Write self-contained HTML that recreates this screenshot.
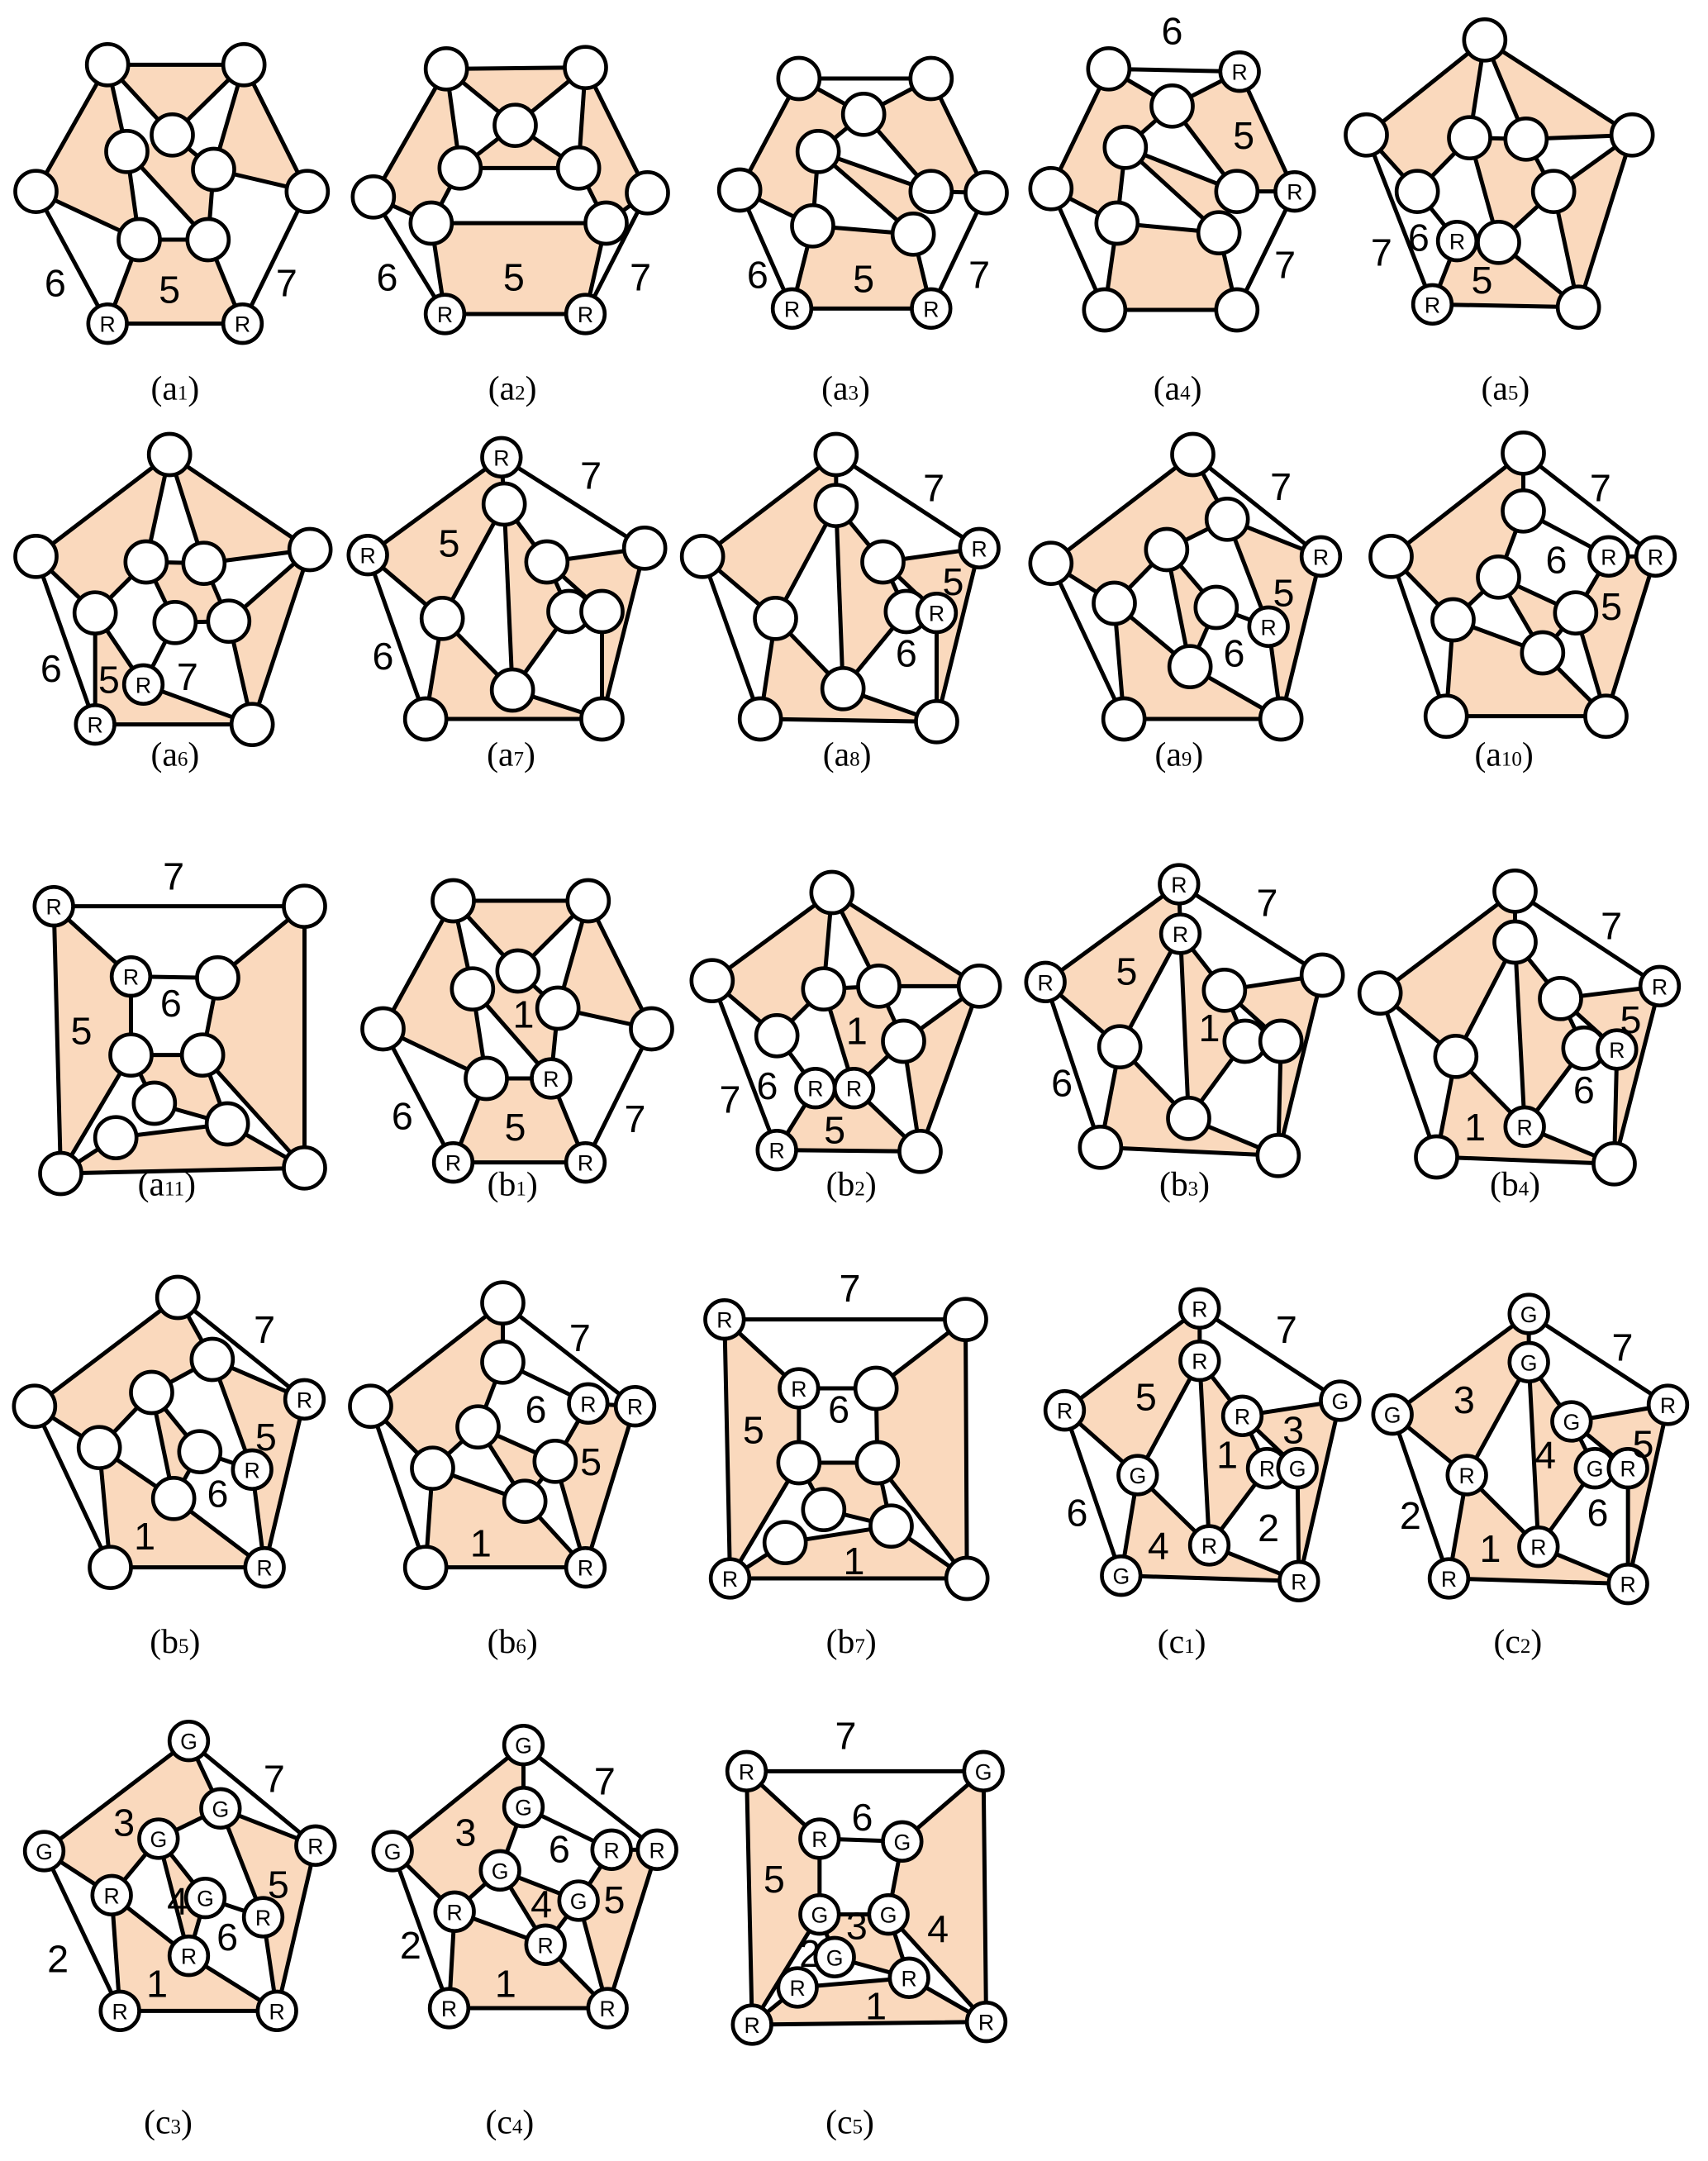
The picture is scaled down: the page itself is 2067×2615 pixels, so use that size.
<!DOCTYPE html>
<html><head><meta charset="utf-8"><style>
html,body{margin:0;padding:0;background:#fff}
svg{display:block}
.f{fill:#FAD9BD;stroke:none}
.e{fill:none;stroke:#000;stroke-width:3;stroke-linecap:round}
circle{fill:#fff;stroke:#000;stroke-width:2.8}
.l{font-family:"Liberation Sans",sans-serif;font-size:16px;text-anchor:middle}
.t{font-family:"Liberation Sans",sans-serif;font-size:28px;text-anchor:middle}
.c{font-family:"Liberation Serif",serif;font-size:25px;text-anchor:middle}
</style></head><body>
<svg width="2067" height="2615" viewBox="0 0 1240 1569" xmlns="http://www.w3.org/2000/svg">
<!-- a1 -->
<polygon class="f" points="78,47 177,47 125,98"/><polygon class="f" points="78,47 92,110 101,174 26,139"/><polygon class="f" points="177,47 223,139 155,123"/><polygon class="f" points="125,98 155,123 151,174 92,110"/><polygon class="f" points="101,174 151,174 176,235 78,235"/>
<path class="e" d="M78,47L177,47 M78,47L26,139 M177,47L223,139 M26,139L78,235 M223,139L176,235 M78,235L176,235 M78,47L92,110 M78,47L125,98 M177,47L125,98 M177,47L155,123 M26,139L101,174 M223,139L155,123 M92,110L101,174 M92,110L151,174 M125,98L155,123 M155,123L151,174 M101,174L151,174 M101,174L78,235 M151,174L176,235"/>
<circle cx="78" cy="47" r="15"/><circle cx="177" cy="47" r="15"/><circle cx="26" cy="139" r="15"/><circle cx="223" cy="139" r="15"/><circle cx="92" cy="110" r="15"/><circle cx="125" cy="98" r="15"/><circle cx="155" cy="123" r="15"/><circle cx="101" cy="174" r="15"/><circle cx="151" cy="174" r="15"/><circle cx="78" cy="235" r="14"/><circle cx="176" cy="235" r="14"/>
<text class="l" x="78" y="241">R</text><text class="l" x="176" y="241">R</text>
<text class="t" x="40" y="215">6</text><text class="t" x="123" y="220">5</text><text class="t" x="208" y="215">7</text>
<!-- a2 -->
<polygon class="f" points="324,50 425,49 374,91"/><polygon class="f" points="374,91 420,122 334,122"/><polygon class="f" points="324,50 334,122 313,162 271,143"/><polygon class="f" points="425,49 470,140 440,162 420,122"/><polygon class="f" points="313,162 440,162 425,228 323,228"/>
<path class="e" d="M324,50L425,49 M324,50L374,91 M425,49L374,91 M374,91L334,122 M374,91L420,122 M334,122L420,122 M324,50L334,122 M425,49L420,122 M324,50L271,143 M425,49L470,140 M271,143L313,162 M470,140L440,162 M334,122L313,162 M420,122L440,162 M313,162L440,162 M271,143L323,228 M470,140L425,228 M313,162L323,228 M440,162L425,228 M323,228L425,228"/>
<circle cx="324" cy="50" r="15"/><circle cx="425" cy="49" r="15"/><circle cx="374" cy="91" r="15"/><circle cx="334" cy="122" r="15"/><circle cx="420" cy="122" r="15"/><circle cx="271" cy="143" r="15"/><circle cx="470" cy="140" r="15"/><circle cx="313" cy="162" r="15"/><circle cx="440" cy="162" r="15"/><circle cx="323" cy="228" r="14"/><circle cx="425" cy="228" r="14"/>
<text class="l" x="323" y="234">R</text><text class="l" x="425" y="234">R</text>
<text class="t" x="281" y="211">6</text><text class="t" x="373" y="211">5</text><text class="t" x="465" y="211">7</text>
<!-- a3 -->
<polygon class="f" points="580,57 627,83 594,110 590,164 537,138"/><polygon class="f" points="676,57 716,140 676,139 627,83"/><polygon class="f" points="594,110 676,139 663,170"/><polygon class="f" points="590,164 663,170 676,224 575,224"/>
<path class="e" d="M580,57L676,57 M580,57L627,83 M676,57L627,83 M580,57L537,138 M676,57L716,140 M627,83L594,110 M627,83L676,139 M594,110L676,139 M594,110L663,170 M594,110L590,164 M537,138L590,164 M676,139L716,140 M537,138L575,224 M716,140L676,224 M590,164L663,170 M590,164L575,224 M663,170L676,224 M575,224L676,224"/>
<circle cx="580" cy="57" r="15"/><circle cx="676" cy="57" r="15"/><circle cx="627" cy="83" r="15"/><circle cx="594" cy="110" r="15"/><circle cx="537" cy="138" r="15"/><circle cx="716" cy="140" r="15"/><circle cx="676" cy="139" r="15"/><circle cx="590" cy="164" r="15"/><circle cx="663" cy="170" r="15"/><circle cx="575" cy="224" r="14"/><circle cx="676" cy="224" r="14"/>
<text class="l" x="575" y="230">R</text><text class="l" x="676" y="230">R</text>
<text class="t" x="550" y="209">6</text><text class="t" x="627" y="212">5</text><text class="t" x="711" y="209">7</text>
<!-- a4 -->
<polygon class="f" points="805,50 851,77 817,107 811,162 763,137"/><polygon class="f" points="900,52 940,139 898,139 851,77"/><polygon class="f" points="817,107 898,139 885,169"/><polygon class="f" points="811,162 885,169 898,225 802,225"/>
<path class="e" d="M805,50L900,52 M805,50L851,77 M900,52L851,77 M805,50L763,137 M900,52L940,139 M851,77L817,107 M851,77L898,139 M817,107L898,139 M817,107L885,169 M817,107L811,162 M763,137L811,162 M898,139L940,139 M763,137L802,225 M940,139L898,225 M811,162L885,169 M811,162L802,225 M885,169L898,225 M802,225L898,225"/>
<circle cx="805" cy="50" r="15"/><circle cx="900" cy="52" r="14"/><circle cx="851" cy="77" r="15"/><circle cx="817" cy="107" r="15"/><circle cx="763" cy="137" r="15"/><circle cx="898" cy="139" r="15"/><circle cx="940" cy="139" r="14"/><circle cx="811" cy="162" r="15"/><circle cx="885" cy="169" r="15"/><circle cx="802" cy="225" r="15"/><circle cx="898" cy="225" r="15"/>
<text class="l" x="900" y="58">R</text><text class="l" x="940" y="145">R</text>
<text class="t" x="851" y="32">6</text><text class="t" x="903" y="108">5</text><text class="t" x="933" y="202">7</text>
<!-- a5 -->
<polygon class="f" points="1078,29 992,98 1029,139 1067,100"/><polygon class="f" points="1078,29 1185,98 1108,101"/><polygon class="f" points="1067,100 1108,101 1128,139 1088,176"/><polygon class="f" points="1185,98 1128,139 1146,223"/><polygon class="f" points="1058,175 1088,176 1146,223 1040,221"/>
<path class="e" d="M1078,29L992,98 M1078,29L1185,98 M1078,29L1067,100 M1078,29L1108,101 M1067,100L1108,101 M1108,101L1185,98 M992,98L1029,139 M992,98L1040,221 M1067,100L1029,139 M1067,100L1088,176 M1108,101L1128,139 M1128,139L1185,98 M1029,139L1058,175 M1058,175L1088,176 M1128,139L1088,176 M1088,176L1146,223 M1128,139L1146,223 M1185,98L1146,223 M1058,175L1040,221 M1040,221L1146,223"/>
<circle cx="1078" cy="29" r="15"/><circle cx="992" cy="98" r="15"/><circle cx="1185" cy="98" r="15"/><circle cx="1067" cy="100" r="15"/><circle cx="1108" cy="101" r="15"/><circle cx="1029" cy="139" r="15"/><circle cx="1128" cy="139" r="15"/><circle cx="1058" cy="175" r="14"/><circle cx="1088" cy="176" r="15"/><circle cx="1040" cy="221" r="14"/><circle cx="1146" cy="223" r="15"/>
<text class="l" x="1058" y="181">R</text><text class="l" x="1040" y="227">R</text>
<text class="t" x="1003" y="193">7</text><text class="t" x="1030" y="182">6</text><text class="t" x="1076" y="213">5</text>
<!-- a6 -->
<polygon class="f" points="123,330 26,404 69,445 106,408"/><polygon class="f" points="123,330 225,399 148,409"/><polygon class="f" points="106,408 148,409 166,451 127,452"/><polygon class="f" points="225,399 166,451 183,526"/><polygon class="f" points="69,445 104,497 183,526 69,526"/>
<path class="e" d="M123,330L26,404 M123,330L225,399 M123,330L106,408 M123,330L148,409 M106,408L148,409 M148,409L225,399 M26,404L69,445 M26,404L69,526 M106,408L69,445 M106,408L127,452 M148,409L166,451 M127,452L166,451 M166,451L225,399 M69,445L104,497 M69,445L69,526 M127,452L104,497 M166,451L183,526 M225,399L183,526 M104,497L183,526 M69,526L183,526"/>
<circle cx="123" cy="330" r="15"/><circle cx="26" cy="404" r="15"/><circle cx="225" cy="399" r="15"/><circle cx="106" cy="408" r="15"/><circle cx="148" cy="409" r="15"/><circle cx="69" cy="445" r="15"/><circle cx="127" cy="452" r="15"/><circle cx="166" cy="451" r="15"/><circle cx="104" cy="497" r="14"/><circle cx="69" cy="526" r="14"/><circle cx="183" cy="526" r="15"/>
<text class="l" x="104" y="503">R</text><text class="l" x="69" y="532">R</text>
<text class="t" x="37" y="495">6</text><text class="t" x="79" y="503">5</text><text class="t" x="136" y="501">7</text>
<!-- a7 -->
<polygon class="f" points="364,332 267,403 321,449 366,366"/><polygon class="f" points="366,366 397,408 413,444 372,501"/><polygon class="f" points="397,408 468,398 437,522 437,444"/><polygon class="f" points="309,522 321,449 372,501 437,522"/>
<path class="e" d="M364,332L267,403 M364,332L468,398 M364,332L366,366 M366,366L321,449 M366,366L372,501 M366,366L397,408 M397,408L468,398 M397,408L413,444 M397,408L437,444 M413,444L372,501 M437,444L437,522 M468,398L437,522 M267,403L321,449 M267,403L309,522 M321,449L372,501 M321,449L309,522 M372,501L437,522 M309,522L437,522"/>
<circle cx="364" cy="332" r="14"/><circle cx="366" cy="366" r="15"/><circle cx="267" cy="403" r="14"/><circle cx="468" cy="398" r="15"/><circle cx="397" cy="408" r="15"/><circle cx="321" cy="449" r="15"/><circle cx="413" cy="444" r="15"/><circle cx="437" cy="444" r="15"/><circle cx="372" cy="501" r="15"/><circle cx="309" cy="522" r="15"/><circle cx="437" cy="522" r="15"/>
<text class="l" x="364" y="338">R</text><text class="l" x="267" y="409">R</text>
<text class="t" x="429" y="355">7</text><text class="t" x="326" y="404">5</text><text class="t" x="278" y="486">6</text>
<!-- a8 -->
<polygon class="f" points="607,330 510,404 563,449 607,367"/><polygon class="f" points="607,367 641,408 658,444 612,500"/><polygon class="f" points="641,408 711,398 680,524 680,445"/><polygon class="f" points="552,522 563,449 612,500 680,524"/>
<path class="e" d="M607,330L510,404 M607,330L711,398 M607,330L607,367 M607,367L563,449 M607,367L612,500 M607,367L641,408 M641,408L711,398 M641,408L658,444 M641,408L680,445 M658,444L612,500 M680,445L680,524 M711,398L680,524 M510,404L563,449 M510,404L552,522 M563,449L612,500 M563,449L552,522 M612,500L680,524 M552,522L680,524"/>
<circle cx="607" cy="330" r="15"/><circle cx="607" cy="367" r="15"/><circle cx="510" cy="404" r="15"/><circle cx="711" cy="398" r="14"/><circle cx="641" cy="408" r="15"/><circle cx="563" cy="449" r="15"/><circle cx="658" cy="444" r="15"/><circle cx="680" cy="445" r="14"/><circle cx="612" cy="500" r="15"/><circle cx="552" cy="522" r="15"/><circle cx="680" cy="524" r="15"/>
<text class="l" x="711" y="404">R</text><text class="l" x="680" y="451">R</text>
<text class="t" x="678" y="364">7</text><text class="t" x="692" y="432">5</text><text class="t" x="658" y="484">6</text>
<!-- a9 -->
<polygon class="f" points="866,330 763,409 809,438 847,399 891,377"/><polygon class="f" points="891,377 959,404 930,522 921,455"/><polygon class="f" points="847,399 883,441 864,484"/><polygon class="f" points="816,522 809,438 864,484 930,522"/>
<path class="e" d="M866,330L763,409 M866,330L959,404 M866,330L891,377 M891,377L847,399 M891,377L959,404 M891,377L921,455 M847,399L809,438 M847,399L864,484 M847,399L883,441 M883,441L921,455 M883,441L864,484 M921,455L930,522 M959,404L930,522 M763,409L809,438 M763,409L816,522 M809,438L816,522 M809,438L864,484 M864,484L930,522 M816,522L930,522"/>
<circle cx="866" cy="330" r="15"/><circle cx="891" cy="377" r="15"/><circle cx="959" cy="404" r="14"/><circle cx="763" cy="409" r="15"/><circle cx="847" cy="399" r="15"/><circle cx="809" cy="438" r="15"/><circle cx="883" cy="441" r="15"/><circle cx="921" cy="455" r="14"/><circle cx="864" cy="484" r="15"/><circle cx="816" cy="522" r="15"/><circle cx="930" cy="522" r="15"/>
<text class="l" x="959" y="410">R</text><text class="l" x="921" y="461">R</text>
<text class="t" x="930" y="363">7</text><text class="t" x="932" y="440">5</text><text class="t" x="896" y="484">6</text>
<!-- a10 -->
<polygon class="f" points="1106,329 1010,404 1055,450 1088,419 1106,371"/><polygon class="f" points="1088,419 1144,445 1120,474"/><polygon class="f" points="1168,404 1202,404 1166,520 1144,445"/><polygon class="f" points="1050,520 1055,450 1120,474 1166,520"/>
<path class="e" d="M1106,329L1010,404 M1106,329L1202,404 M1106,329L1106,371 M1106,371L1088,419 M1106,371L1168,404 M1168,404L1202,404 M1168,404L1144,445 M1202,404L1166,520 M1088,419L1055,450 M1088,419L1144,445 M1088,419L1120,474 M1144,445L1120,474 M1144,445L1166,520 M1010,404L1055,450 M1010,404L1050,520 M1055,450L1120,474 M1055,450L1050,520 M1120,474L1166,520 M1050,520L1166,520"/>
<circle cx="1106" cy="329" r="15"/><circle cx="1106" cy="371" r="15"/><circle cx="1168" cy="404" r="14"/><circle cx="1202" cy="404" r="14"/><circle cx="1010" cy="404" r="15"/><circle cx="1088" cy="419" r="15"/><circle cx="1144" cy="445" r="15"/><circle cx="1055" cy="450" r="15"/><circle cx="1120" cy="474" r="15"/><circle cx="1050" cy="520" r="15"/><circle cx="1166" cy="520" r="15"/>
<text class="l" x="1168" y="410">R</text><text class="l" x="1202" y="410">R</text>
<text class="t" x="1162" y="364">7</text><text class="t" x="1130" y="416">6</text><text class="t" x="1170" y="450">5</text>
<!-- a11 -->
<polygon class="f" points="39,658 95,709 95,766 44,852"/><polygon class="f" points="221,658 221,848 147,766 158,710"/><polygon class="f" points="95,766 147,766 165,816 112,801"/><polygon class="f" points="44,852 84,826 165,816 221,848"/>
<path class="e" d="M39,658L221,658 M39,658L44,852 M221,658L221,848 M44,852L221,848 M39,658L95,709 M221,658L158,710 M95,709L158,710 M95,709L95,766 M158,710L147,766 M95,766L147,766 M95,766L44,852 M147,766L221,848 M147,766L165,816 M95,766L112,801 M112,801L165,816 M84,826L165,816 M84,826L44,852 M165,816L221,848"/>
<circle cx="39" cy="658" r="14"/><circle cx="221" cy="658" r="15"/><circle cx="44" cy="852" r="15"/><circle cx="221" cy="848" r="15"/><circle cx="95" cy="709" r="14"/><circle cx="158" cy="710" r="15"/><circle cx="95" cy="766" r="15"/><circle cx="147" cy="766" r="15"/><circle cx="112" cy="801" r="15"/><circle cx="165" cy="816" r="15"/><circle cx="84" cy="826" r="15"/>
<text class="l" x="39" y="664">R</text><text class="l" x="95" y="715">R</text>
<text class="t" x="126" y="646">7</text><text class="t" x="124" y="738">6</text><text class="t" x="59" y="758">5</text>
<!-- b1 -->
<polygon class="f" points="329,654 427,654 376,705"/><polygon class="f" points="329,654 343,718 353,783 278,747"/><polygon class="f" points="427,654 473,747 405,732"/><polygon class="f" points="376,705 405,732 400,783 343,718"/><polygon class="f" points="353,783 400,783 425,844 329,844"/>
<path class="e" d="M329,654L427,654 M329,654L376,705 M427,654L376,705 M329,654L343,718 M427,654L405,732 M329,654L278,747 M427,654L473,747 M278,747L353,783 M405,732L473,747 M343,718L353,783 M343,718L400,783 M376,705L405,732 M405,732L400,783 M353,783L400,783 M353,783L329,844 M400,783L425,844 M278,747L329,844 M473,747L425,844 M329,844L425,844"/>
<circle cx="329" cy="654" r="15"/><circle cx="427" cy="654" r="15"/><circle cx="278" cy="747" r="15"/><circle cx="473" cy="747" r="15"/><circle cx="376" cy="705" r="15"/><circle cx="343" cy="718" r="15"/><circle cx="405" cy="732" r="15"/><circle cx="353" cy="783" r="15"/><circle cx="400" cy="783" r="14"/><circle cx="329" cy="844" r="14"/><circle cx="425" cy="844" r="14"/>
<text class="l" x="400" y="789">R</text><text class="l" x="329" y="850">R</text><text class="l" x="425" y="850">R</text>
<text class="t" x="292" y="820">6</text><text class="t" x="374" y="828">5</text><text class="t" x="461" y="822">7</text><text class="t" x="380" y="746">1</text>
<!-- b2 -->
<polygon class="f" points="604,648 517,712 564,752 598,718"/><polygon class="f" points="604,648 711,716 638,716"/><polygon class="f" points="598,718 638,716 656,756 620,790"/><polygon class="f" points="711,716 656,756 668,836"/><polygon class="f" points="592,790 620,790 668,836 564,835"/>
<path class="e" d="M604,648L517,712 M604,648L711,716 M604,648L598,718 M604,648L638,716 M598,718L638,716 M638,716L711,716 M517,712L564,752 M517,712L564,835 M598,718L564,752 M598,718L620,790 M638,716L656,756 M656,756L711,716 M564,752L592,790 M592,790L620,790 M656,756L620,790 M620,790L668,836 M656,756L668,836 M711,716L668,836 M592,790L564,835 M564,835L668,836"/>
<circle cx="604" cy="648" r="15"/><circle cx="517" cy="712" r="15"/><circle cx="711" cy="716" r="15"/><circle cx="598" cy="718" r="15"/><circle cx="638" cy="716" r="15"/><circle cx="564" cy="752" r="15"/><circle cx="656" cy="756" r="15"/><circle cx="592" cy="790" r="14"/><circle cx="620" cy="790" r="14"/><circle cx="564" cy="835" r="14"/><circle cx="668" cy="836" r="15"/>
<text class="l" x="592" y="796">R</text><text class="l" x="620" y="796">R</text><text class="l" x="564" y="841">R</text>
<text class="t" x="530" y="808">7</text><text class="t" x="557" y="798">6</text><text class="t" x="606" y="830">5</text><text class="t" x="622" y="758">1</text>
<!-- b3 -->
<polygon class="f" points="856,642 759,713 813,760 857,678"/><polygon class="f" points="857,678 889,719 904,756 863,812"/><polygon class="f" points="889,719 960,708 928,839 930,756"/><polygon class="f" points="799,833 813,760 863,812 928,839"/>
<path class="e" d="M856,642L759,713 M856,642L960,708 M856,642L857,678 M857,678L813,760 M857,678L863,812 M857,678L889,719 M889,719L960,708 M889,719L904,756 M889,719L930,756 M904,756L863,812 M930,756L928,839 M960,708L928,839 M759,713L813,760 M759,713L799,833 M813,760L863,812 M813,760L799,833 M863,812L928,839 M799,833L928,839"/>
<circle cx="856" cy="642" r="14"/><circle cx="857" cy="678" r="14"/><circle cx="759" cy="713" r="14"/><circle cx="960" cy="708" r="15"/><circle cx="889" cy="719" r="15"/><circle cx="813" cy="760" r="15"/><circle cx="904" cy="756" r="15"/><circle cx="930" cy="756" r="15"/><circle cx="863" cy="812" r="15"/><circle cx="799" cy="833" r="15"/><circle cx="928" cy="839" r="15"/>
<text class="l" x="856" y="648">R</text><text class="l" x="857" y="684">R</text><text class="l" x="759" y="719">R</text>
<text class="t" x="920" y="665">7</text><text class="t" x="818" y="715">5</text><text class="t" x="771" y="796">6</text><text class="t" x="878" y="756">1</text>
<!-- b4 -->
<polygon class="f" points="1100,647 1002,721 1057,767 1100,684"/><polygon class="f" points="1100,684 1133,725 1150,761 1107,818"/><polygon class="f" points="1133,725 1205,716 1172,845 1174,762"/><polygon class="f" points="1043,840 1057,767 1107,818 1172,845"/>
<path class="e" d="M1100,647L1002,721 M1100,647L1205,716 M1100,647L1100,684 M1100,684L1057,767 M1100,684L1107,818 M1100,684L1133,725 M1133,725L1205,716 M1133,725L1150,761 M1133,725L1174,762 M1150,761L1107,818 M1174,762L1172,845 M1205,716L1172,845 M1002,721L1057,767 M1002,721L1043,840 M1057,767L1107,818 M1057,767L1043,840 M1107,818L1172,845 M1043,840L1172,845"/>
<circle cx="1100" cy="647" r="15"/><circle cx="1100" cy="684" r="15"/><circle cx="1205" cy="716" r="14"/><circle cx="1002" cy="721" r="15"/><circle cx="1133" cy="725" r="15"/><circle cx="1057" cy="767" r="15"/><circle cx="1150" cy="761" r="15"/><circle cx="1174" cy="762" r="14"/><circle cx="1107" cy="818" r="14"/><circle cx="1043" cy="840" r="15"/><circle cx="1172" cy="845" r="15"/>
<text class="l" x="1205" y="722">R</text><text class="l" x="1174" y="768">R</text><text class="l" x="1107" y="824">R</text>
<text class="t" x="1170" y="682">7</text><text class="t" x="1184" y="750">5</text><text class="t" x="1150" y="801">6</text><text class="t" x="1071" y="828">1</text>
<!-- b5 -->
<polygon class="f" points="129,942 25,1021 72,1051 110,1011 154,987"/><polygon class="f" points="154,987 221,1016 192,1138 183,1067"/><polygon class="f" points="110,1011 145,1054 126,1088"/><polygon class="f" points="80,1138 72,1051 126,1088 192,1138"/>
<path class="e" d="M129,942L25,1021 M129,942L221,1016 M129,942L154,987 M154,987L110,1011 M154,987L221,1016 M154,987L183,1067 M110,1011L72,1051 M110,1011L126,1088 M110,1011L145,1054 M145,1054L183,1067 M145,1054L126,1088 M183,1067L192,1138 M221,1016L192,1138 M25,1021L72,1051 M25,1021L80,1138 M72,1051L80,1138 M72,1051L126,1088 M126,1088L192,1138 M80,1138L192,1138"/>
<circle cx="129" cy="942" r="15"/><circle cx="154" cy="987" r="15"/><circle cx="221" cy="1016" r="14"/><circle cx="25" cy="1021" r="15"/><circle cx="110" cy="1011" r="15"/><circle cx="72" cy="1051" r="15"/><circle cx="145" cy="1054" r="15"/><circle cx="183" cy="1067" r="14"/><circle cx="126" cy="1088" r="15"/><circle cx="80" cy="1138" r="15"/><circle cx="192" cy="1138" r="14"/>
<text class="l" x="221" y="1022">R</text><text class="l" x="183" y="1073">R</text><text class="l" x="192" y="1144">R</text>
<text class="t" x="192" y="975">7</text><text class="t" x="193" y="1053">5</text><text class="t" x="158" y="1094">6</text><text class="t" x="105" y="1125">1</text>
<!-- b6 -->
<polygon class="f" points="365,946 269,1021 314,1066 347,1036 365,989"/><polygon class="f" points="347,1036 403,1061 381,1090"/><polygon class="f" points="427,1019 461,1021 425,1138 403,1061"/><polygon class="f" points="309,1138 314,1066 381,1090 425,1138"/>
<path class="e" d="M365,946L269,1021 M365,946L461,1021 M365,946L365,989 M365,989L347,1036 M365,989L427,1019 M427,1019L461,1021 M427,1019L403,1061 M461,1021L425,1138 M347,1036L314,1066 M347,1036L403,1061 M347,1036L381,1090 M403,1061L381,1090 M403,1061L425,1138 M269,1021L314,1066 M269,1021L309,1138 M314,1066L381,1090 M314,1066L309,1138 M381,1090L425,1138 M309,1138L425,1138"/>
<circle cx="365" cy="946" r="15"/><circle cx="365" cy="989" r="15"/><circle cx="427" cy="1019" r="14"/><circle cx="461" cy="1021" r="14"/><circle cx="269" cy="1021" r="15"/><circle cx="347" cy="1036" r="15"/><circle cx="403" cy="1061" r="15"/><circle cx="314" cy="1066" r="15"/><circle cx="381" cy="1090" r="15"/><circle cx="309" cy="1138" r="15"/><circle cx="425" cy="1138" r="14"/>
<text class="l" x="427" y="1025">R</text><text class="l" x="461" y="1027">R</text><text class="l" x="425" y="1144">R</text>
<text class="t" x="421" y="981">7</text><text class="t" x="389" y="1033">6</text><text class="t" x="429" y="1071">5</text><text class="t" x="349" y="1130">1</text>
<!-- b7 -->
<polygon class="f" points="526,958 580,1008 580,1062 530,1146"/><polygon class="f" points="701,958 702,1146 637,1062 636,1008"/><polygon class="f" points="580,1062 637,1062 647,1108 598,1096"/><polygon class="f" points="530,1146 570,1120 647,1108 702,1146"/>
<path class="e" d="M526,958L701,958 M526,958L530,1146 M701,958L702,1146 M530,1146L702,1146 M526,958L580,1008 M701,958L636,1008 M580,1008L636,1008 M580,1008L580,1062 M636,1008L637,1062 M580,1062L637,1062 M580,1062L530,1146 M637,1062L702,1146 M637,1062L647,1108 M580,1062L598,1096 M598,1096L647,1108 M570,1120L647,1108 M570,1120L530,1146 M647,1108L702,1146"/>
<circle cx="526" cy="958" r="14"/><circle cx="701" cy="958" r="15"/><circle cx="530" cy="1146" r="14"/><circle cx="702" cy="1146" r="15"/><circle cx="580" cy="1008" r="14"/><circle cx="636" cy="1008" r="15"/><circle cx="580" cy="1062" r="15"/><circle cx="637" cy="1062" r="15"/><circle cx="598" cy="1096" r="15"/><circle cx="647" cy="1108" r="15"/><circle cx="570" cy="1120" r="15"/>
<text class="l" x="526" y="964">R</text><text class="l" x="530" y="1152">R</text><text class="l" x="580" y="1014">R</text>
<text class="t" x="617" y="945">7</text><text class="t" x="609" y="1033">6</text><text class="t" x="547" y="1048">5</text><text class="t" x="620" y="1143">1</text>
<!-- c1 -->
<polygon class="f" points="871,950 773,1024 826,1071 871,988"/><polygon class="f" points="871,988 902,1028 920,1066 878,1122"/><polygon class="f" points="902,1028 973,1017 943,1148 942,1066"/><polygon class="f" points="814,1144 826,1071 878,1122 943,1148"/>
<path class="e" d="M871,950L773,1024 M871,950L973,1017 M871,950L871,988 M871,988L826,1071 M871,988L878,1122 M871,988L902,1028 M902,1028L973,1017 M902,1028L920,1066 M902,1028L942,1066 M920,1066L878,1122 M942,1066L943,1148 M973,1017L943,1148 M773,1024L826,1071 M773,1024L814,1144 M826,1071L878,1122 M826,1071L814,1144 M878,1122L943,1148 M814,1144L943,1148"/>
<circle cx="871" cy="950" r="14"/><circle cx="871" cy="988" r="14"/><circle cx="773" cy="1024" r="14"/><circle cx="973" cy="1017" r="14"/><circle cx="902" cy="1028" r="14"/><circle cx="826" cy="1071" r="14"/><circle cx="920" cy="1066" r="14"/><circle cx="942" cy="1066" r="14"/><circle cx="878" cy="1122" r="14"/><circle cx="814" cy="1144" r="14"/><circle cx="943" cy="1148" r="14"/>
<text class="l" x="871" y="956">R</text><text class="l" x="871" y="994">R</text><text class="l" x="773" y="1030">R</text><text class="l" x="973" y="1023">G</text><text class="l" x="902" y="1034">R</text><text class="l" x="826" y="1077">G</text><text class="l" x="920" y="1072">R</text><text class="l" x="942" y="1072">G</text><text class="l" x="878" y="1128">R</text><text class="l" x="814" y="1150">G</text><text class="l" x="943" y="1154">R</text>
<text class="t" x="934" y="975">7</text><text class="t" x="832" y="1024">5</text><text class="t" x="939" y="1048">3</text><text class="t" x="891" y="1066">1</text><text class="t" x="782" y="1108">6</text><text class="t" x="921" y="1119">2</text><text class="t" x="841" y="1132">4</text>
<!-- c2 -->
<polygon class="f" points="1110,954 1011,1027 1065,1071 1110,989"/><polygon class="f" points="1110,989 1141,1032 1158,1066 1117,1123"/><polygon class="f" points="1141,1032 1211,1020 1182,1150 1182,1066"/><polygon class="f" points="1052,1146 1065,1071 1117,1123 1182,1150"/>
<path class="e" d="M1110,954L1011,1027 M1110,954L1211,1020 M1110,954L1110,989 M1110,989L1065,1071 M1110,989L1117,1123 M1110,989L1141,1032 M1141,1032L1211,1020 M1141,1032L1158,1066 M1141,1032L1182,1066 M1158,1066L1117,1123 M1182,1066L1182,1150 M1211,1020L1182,1150 M1011,1027L1065,1071 M1011,1027L1052,1146 M1065,1071L1117,1123 M1065,1071L1052,1146 M1117,1123L1182,1150 M1052,1146L1182,1150"/>
<circle cx="1110" cy="954" r="14"/><circle cx="1110" cy="989" r="14"/><circle cx="1211" cy="1020" r="14"/><circle cx="1011" cy="1027" r="14"/><circle cx="1141" cy="1032" r="14"/><circle cx="1065" cy="1071" r="14"/><circle cx="1158" cy="1066" r="14"/><circle cx="1182" cy="1066" r="14"/><circle cx="1117" cy="1123" r="14"/><circle cx="1052" cy="1146" r="14"/><circle cx="1182" cy="1150" r="14"/>
<text class="l" x="1110" y="960">G</text><text class="l" x="1110" y="995">G</text><text class="l" x="1211" y="1026">R</text><text class="l" x="1011" y="1033">G</text><text class="l" x="1141" y="1038">G</text><text class="l" x="1065" y="1077">R</text><text class="l" x="1158" y="1072">G</text><text class="l" x="1182" y="1072">R</text><text class="l" x="1117" y="1129">R</text><text class="l" x="1052" y="1152">R</text><text class="l" x="1182" y="1156">R</text>
<text class="t" x="1178" y="988">7</text><text class="t" x="1063" y="1026">3</text><text class="t" x="1193" y="1058">5</text><text class="t" x="1122" y="1066">4</text><text class="t" x="1160" y="1108">6</text><text class="t" x="1024" y="1110">2</text><text class="t" x="1082" y="1134">1</text>
<!-- c3 -->
<polygon class="f" points="137,1264 32,1344 81,1376 115,1335 160,1313"/><polygon class="f" points="160,1313 229,1340 201,1460 191,1392"/><polygon class="f" points="115,1335 149,1378 137,1420"/><polygon class="f" points="87,1460 81,1376 137,1420 201,1460"/>
<path class="e" d="M137,1264L32,1344 M137,1264L229,1340 M137,1264L160,1313 M160,1313L115,1335 M160,1313L229,1340 M160,1313L191,1392 M115,1335L81,1376 M115,1335L137,1420 M115,1335L149,1378 M149,1378L191,1392 M149,1378L137,1420 M191,1392L201,1460 M229,1340L201,1460 M32,1344L81,1376 M32,1344L87,1460 M81,1376L87,1460 M81,1376L137,1420 M137,1420L201,1460 M87,1460L201,1460"/>
<circle cx="137" cy="1264" r="14"/><circle cx="160" cy="1313" r="14"/><circle cx="229" cy="1340" r="14"/><circle cx="32" cy="1344" r="14"/><circle cx="115" cy="1335" r="14"/><circle cx="81" cy="1376" r="14"/><circle cx="149" cy="1378" r="14"/><circle cx="191" cy="1392" r="14"/><circle cx="137" cy="1420" r="14"/><circle cx="87" cy="1460" r="14"/><circle cx="201" cy="1460" r="14"/>
<text class="l" x="137" y="1270">G</text><text class="l" x="160" y="1319">G</text><text class="l" x="229" y="1346">R</text><text class="l" x="32" y="1350">G</text><text class="l" x="115" y="1341">G</text><text class="l" x="81" y="1382">R</text><text class="l" x="149" y="1384">G</text><text class="l" x="191" y="1398">R</text><text class="l" x="137" y="1426">R</text><text class="l" x="87" y="1466">R</text><text class="l" x="201" y="1466">R</text>
<text class="t" x="199" y="1301">7</text><text class="t" x="90" y="1333">3</text><text class="t" x="202" y="1378">5</text><text class="t" x="129" y="1390">4</text><text class="t" x="165" y="1416">6</text><text class="t" x="42" y="1432">2</text><text class="t" x="114" y="1450">1</text>
<!-- c4 -->
<polygon class="f" points="380,1267 285,1344 330,1388 363,1358 380,1312"/><polygon class="f" points="363,1358 420,1380 396,1412"/><polygon class="f" points="444,1343 477,1343 441,1458 420,1380"/><polygon class="f" points="326,1458 330,1388 396,1412 441,1458"/>
<path class="e" d="M380,1267L285,1344 M380,1267L477,1343 M380,1267L380,1312 M380,1312L363,1358 M380,1312L444,1343 M444,1343L477,1343 M444,1343L420,1380 M477,1343L441,1458 M363,1358L330,1388 M363,1358L420,1380 M363,1358L396,1412 M420,1380L396,1412 M420,1380L441,1458 M285,1344L330,1388 M285,1344L326,1458 M330,1388L396,1412 M330,1388L326,1458 M396,1412L441,1458 M326,1458L441,1458"/>
<circle cx="380" cy="1267" r="14"/><circle cx="380" cy="1312" r="14"/><circle cx="444" cy="1343" r="14"/><circle cx="477" cy="1343" r="14"/><circle cx="285" cy="1344" r="14"/><circle cx="363" cy="1358" r="14"/><circle cx="420" cy="1380" r="14"/><circle cx="330" cy="1388" r="14"/><circle cx="396" cy="1412" r="14"/><circle cx="326" cy="1458" r="14"/><circle cx="441" cy="1458" r="14"/>
<text class="l" x="380" y="1273">G</text><text class="l" x="380" y="1318">G</text><text class="l" x="444" y="1349">R</text><text class="l" x="477" y="1349">R</text><text class="l" x="285" y="1350">G</text><text class="l" x="363" y="1364">G</text><text class="l" x="420" y="1386">G</text><text class="l" x="330" y="1394">R</text><text class="l" x="396" y="1418">R</text><text class="l" x="326" y="1464">R</text><text class="l" x="441" y="1464">R</text>
<text class="t" x="439" y="1303">7</text><text class="t" x="338" y="1340">3</text><text class="t" x="406" y="1352">6</text><text class="t" x="393" y="1392">4</text><text class="t" x="446" y="1389">5</text><text class="t" x="298" y="1422">2</text><text class="t" x="367" y="1450">1</text>
<!-- c5 -->
<polygon class="f" points="542,1286 595,1335 595,1390 546,1470"/><polygon class="f" points="714,1286 716,1468 645,1390 655,1337"/><polygon class="f" points="595,1390 645,1390 660,1436 606,1421"/><polygon class="f" points="546,1470 579,1443 660,1436 716,1468"/>
<path class="e" d="M542,1286L714,1286 M542,1286L546,1470 M714,1286L716,1468 M546,1470L716,1468 M542,1286L595,1335 M714,1286L655,1337 M595,1335L655,1337 M595,1335L595,1390 M655,1337L645,1390 M595,1390L645,1390 M595,1390L546,1470 M645,1390L716,1468 M645,1390L660,1436 M595,1390L606,1421 M606,1421L660,1436 M579,1443L660,1436 M579,1443L546,1470 M660,1436L716,1468"/>
<circle cx="542" cy="1286" r="14"/><circle cx="714" cy="1286" r="14"/><circle cx="546" cy="1470" r="14"/><circle cx="716" cy="1468" r="14"/><circle cx="595" cy="1335" r="14"/><circle cx="655" cy="1337" r="14"/><circle cx="595" cy="1390" r="14"/><circle cx="645" cy="1390" r="14"/><circle cx="606" cy="1421" r="14"/><circle cx="660" cy="1436" r="14"/><circle cx="579" cy="1443" r="14"/>
<text class="l" x="542" y="1292">R</text><text class="l" x="714" y="1292">G</text><text class="l" x="546" y="1476">R</text><text class="l" x="716" y="1474">R</text><text class="l" x="595" y="1341">R</text><text class="l" x="655" y="1343">G</text><text class="l" x="595" y="1396">G</text><text class="l" x="645" y="1396">G</text><text class="l" x="606" y="1427">G</text><text class="l" x="660" y="1442">R</text><text class="l" x="579" y="1449">R</text>
<text class="t" x="614" y="1270">7</text><text class="t" x="626" y="1329">6</text><text class="t" x="562" y="1374">5</text><text class="t" x="681" y="1410">4</text><text class="t" x="622" y="1408">3</text><text class="t" x="588" y="1428">2</text><text class="t" x="636" y="1466">1</text>
<!-- captions -->
<text class="c" x="127" y="290">(a<tspan font-size="15">1</tspan>)</text>
<text class="c" x="372" y="290">(a<tspan font-size="15">2</tspan>)</text>
<text class="c" x="614" y="290">(a<tspan font-size="15">3</tspan>)</text>
<text class="c" x="855" y="290">(a<tspan font-size="15">4</tspan>)</text>
<text class="c" x="1093" y="290">(a<tspan font-size="15">5</tspan>)</text>
<text class="c" x="127" y="556">(a<tspan font-size="15">6</tspan>)</text>
<text class="c" x="371" y="556">(a<tspan font-size="15">7</tspan>)</text>
<text class="c" x="615" y="556">(a<tspan font-size="15">8</tspan>)</text>
<text class="c" x="856" y="556">(a<tspan font-size="15">9</tspan>)</text>
<text class="c" x="1092" y="556">(a<tspan font-size="15">10</tspan>)</text>
<text class="c" x="121" y="868">(a<tspan font-size="15">11</tspan>)</text>
<text class="c" x="372" y="868">(b<tspan font-size="15">1</tspan>)</text>
<text class="c" x="618" y="868">(b<tspan font-size="15">2</tspan>)</text>
<text class="c" x="860" y="868">(b<tspan font-size="15">3</tspan>)</text>
<text class="c" x="1100" y="868">(b<tspan font-size="15">4</tspan>)</text>
<text class="c" x="127" y="1200">(b<tspan font-size="15">5</tspan>)</text>
<text class="c" x="372" y="1200">(b<tspan font-size="15">6</tspan>)</text>
<text class="c" x="618" y="1200">(b<tspan font-size="15">7</tspan>)</text>
<text class="c" x="858" y="1200">(c<tspan font-size="15">1</tspan>)</text>
<text class="c" x="1102" y="1200">(c<tspan font-size="15">2</tspan>)</text>
<text class="c" x="122" y="1549">(c<tspan font-size="15">3</tspan>)</text>
<text class="c" x="370" y="1549">(c<tspan font-size="15">4</tspan>)</text>
<text class="c" x="617" y="1549">(c<tspan font-size="15">5</tspan>)</text>
</svg>
</body></html>
